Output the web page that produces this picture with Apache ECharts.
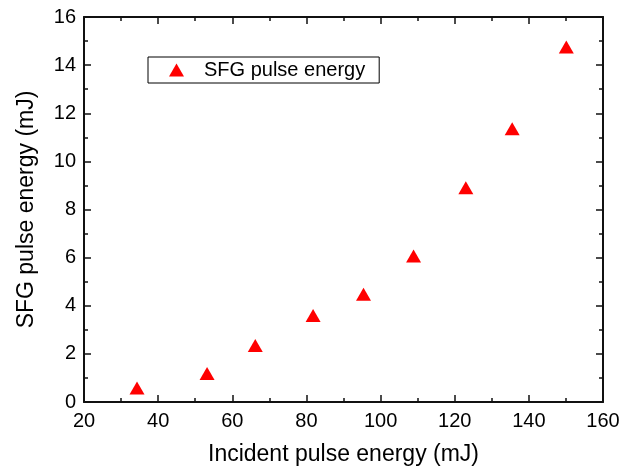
<!DOCTYPE html>
<html>
<head>
<meta charset="utf-8">
<script src="https://cdn.jsdelivr.net/npm/echarts@6/dist/echarts.min.js"></script>
<style>
html,body{margin:0;padding:0;background:#fff;}
#chart{width:631px;height:468px;}
</style>
</head>
<body>
<div id="chart"></div>
<script>
var seriesName = 'SFG pulse energy';
var incidentEnergy = [34.3, 53.2, 66.2, 81.8, 95.4, 108.9, 123.0, 135.5, 150.1];
var sfgEnergy = [0.58, 1.18, 2.35, 3.60, 4.48, 6.07, 8.90, 11.36, 14.75];
var xTitle = 'Incident pulse energy (mJ)';
var yTitle = 'SFG pulse energy (mJ)';
var xRange = [20, 160, 20];
var yRange = [0, 16, 2];

var font = 'Liberation Sans, Arial, Helvetica, sans-serif';
var lineCol = '#111';

function axisBase(range, extra) {
  var a = {
    min: range[0], max: range[1], interval: range[2],
    axisLine: {show: true, onZero: false, lineStyle: {color: lineCol, width: 2}},
    axisTick: {show: true, inside: true, length: 7, lineStyle: {color: lineCol, width: 1.5}},
    minorTick: {show: true, splitNumber: 2, length: 4, lineStyle: {color: lineCol, width: 1.5}},
    splitLine: {show: false},
    axisLabel: {show: true, color: '#000', fontFamily: font, fontSize: 20}
  };
  for (var k in extra) a[k] = extra[k];
  return a;
}

var chart = echarts.init(document.getElementById('chart'), null, {renderer: 'canvas'});
chart.setOption({
  animation: false,
  backgroundColor: '#fff',
  grid: {left: 84, right: 28, top: 17, bottom: 66, containLabel: false, outerBoundsMode: 'none'},
  legend: {
    show: true,
    data: [{name: seriesName, icon: 'triangle'}],
    left: 148, top: 57,
    orient: 'horizontal',
    backgroundColor: '#fff',
    borderColor: '#000', borderWidth: 1,
    padding: [3, 14, 3, 21],
    itemWidth: 15, itemHeight: 13,
    formatter: function (name) { return '{t|' + name + '}'; },
    textStyle: {color: '#000', fontFamily: font, fontSize: 20,
      rich: {t: {color: '#000', fontFamily: font, fontSize: 20, padding: [0, 0, 0, 15]}}}
  },
  xAxis: [
    axisBase(xRange, {type: 'value', position: 'bottom', name: xTitle, nameLocation: 'middle', nameGap: 41,
      nameTextStyle: {color: '#000', fontFamily: font, fontSize: 23},
      axisLabel: {show: true, color: '#000', fontFamily: font, fontSize: 20, margin: 9}}),
    axisBase(xRange, {type: 'value', position: 'top', axisLabel: {show: false}})
  ],
  yAxis: [
    axisBase(yRange, {type: 'value', position: 'left', name: yTitle, nameLocation: 'middle', nameGap: 46,
      nameTextStyle: {color: '#000', fontFamily: font, fontSize: 23},
      axisLabel: {show: true, color: '#000', fontFamily: font, fontSize: 20, margin: 8}}),
    axisBase(yRange, {type: 'value', position: 'right', axisLabel: {show: false}})
  ],
  series: [{
    name: seriesName,
    type: 'scatter',
    xAxisIndex: 0, yAxisIndex: 0,
    symbol: 'triangle',
    symbolSize: [15, 13],
    itemStyle: {color: '#ff0000', opacity: 1},
    data: incidentEnergy.map(function (x, i) { return [x, sfgEnergy[i]]; })
  }]
});
</script>
</body>
</html>
